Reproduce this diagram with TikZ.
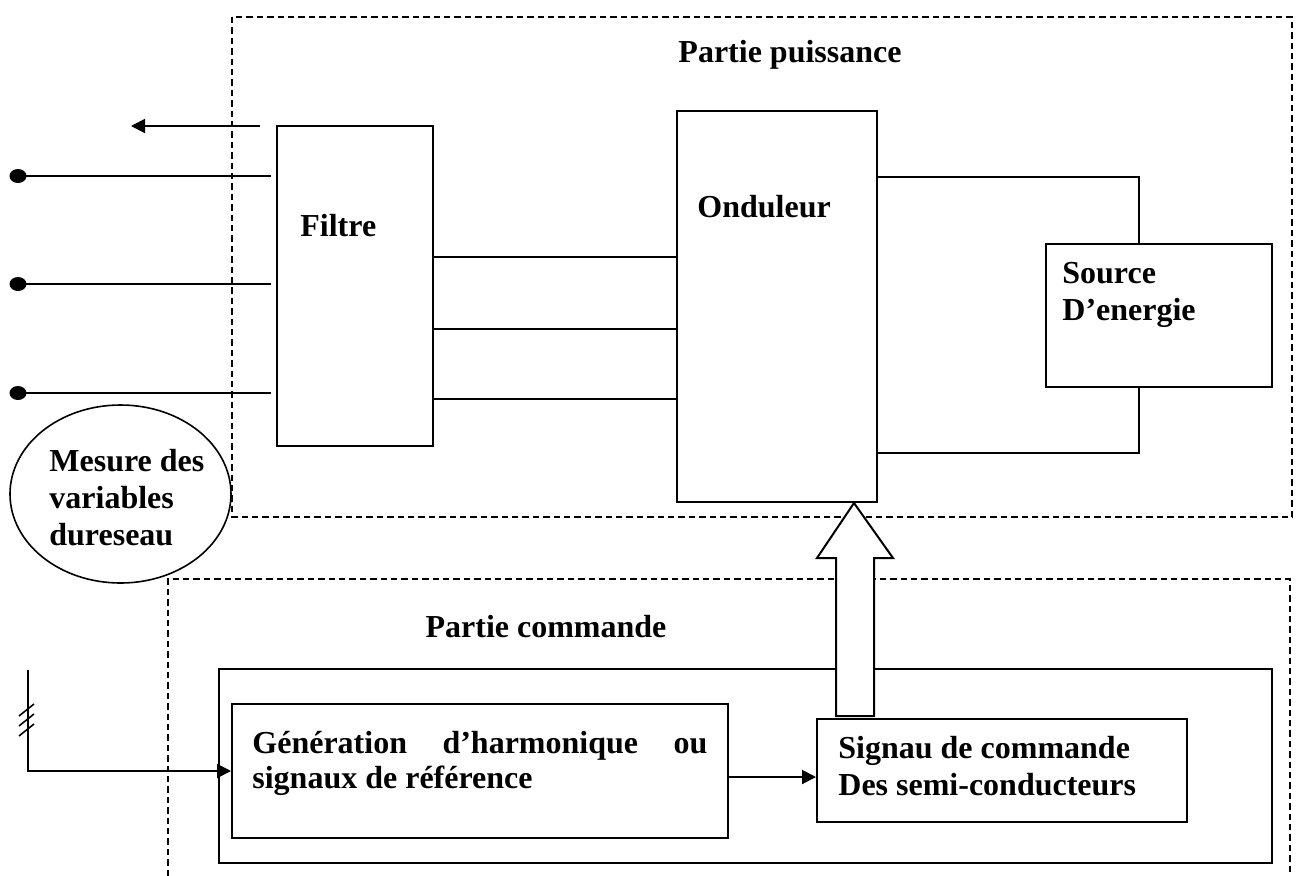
\documentclass[tikz,border=0pt]{standalone}
\usepackage{fontspec}
\setmainfont{Liberation Serif}
\usetikzlibrary{arrows.meta,fit,shapes.geometric}

\begin{document}
\begin{tikzpicture}[x=0.5pt,y=-0.5pt,
  every node/.style={font=\fontsize{16}{18}\selectfont\bfseries},
  box/.style={draw, line width=1pt, inner sep=0pt},
  wire/.style={line width=0.9pt},
  zone/.style={line width=0.8pt, dash pattern=on 3.2pt off 2pt},
  txt/.style={anchor=base west, inner sep=0pt},
  ctxt/.style={anchor=base, inner sep=0pt},
  dot/.style={ellipse, fill=black, inner sep=0pt, minimum width=8.5pt, minimum height=7pt},
  arr/.style={-{Triangle[length=7pt,width=7pt]}},
  hollow/.style={line width=1pt, fill=white, line join=miter},
]
\useasboundingbox (0,0) rectangle (1296,875);

% dashed zones: power part and control part
\draw[zone] (232,17) rectangle (1292,517);
\draw[zone] (168,876) |- (1290,579) -- (1290,876);

% blocks
\node[box, fit={(277,126)(433,446)}] (filtre) {};
\node[box, fit={(677,111)(877,502)}] (ond) {};
\node[box, fit={(1046,244)(1272,387)}] (src) {};
\node[box, fit={(219,669)(1272,863)}] (cmd) {};
\node[box, fit={(232,704)(728,838)}] (gen) {};
\node[box, fit={(817,719)(1187,822)}] (sig) {};
\node[draw, line width=0.8pt, ellipse, inner sep=0pt,
      minimum width=110.5pt, minimum height=89pt] (mes) at (120.5,494) {};

% block texts
\node[ctxt] (tpp) at (790,62) {Partie puissance};
\node[ctxt] (tpc) at (546,637) {Partie commande};
\node[txt] (tfil) at (300,236) {Filtre};
\node[txt] (tond) at (697,217) {Onduleur};
\node[txt] (tsrc1) at (1062,283) {Source};
\node[txt] (tsrc2) at (1062,320) {D’energie};
\node[txt] (tmes1) at (49,471) {Mesure des};
\node[txt] (tmes2) at (49,508) {variables};
\node[txt] (tmes3) at (49,545) {dureseau};
\node[txt] (tgen1) at (252,753) {\hbox to 227.5pt{Génération\hfill d’harmonique\hfill ou}};
\node[txt] (tgen2) at (252,788) {signaux de référence};
\node[txt] (tsig1) at (838,758) {Signau de commande};
\node[txt] (tsig2) at (838,795) {Des semi-conducteurs};

% grid terminals
\foreach \n/\y in {1/176, 2/284, 3/393} {
  \node[dot] (d\n) at (18,\y) {};
  \draw[wire, shorten >=2.5pt] (d\n.center) -- (d\n.center -| filtre.west);
}

% output current arrow
\coordinate (outA) at (260,126);
\coordinate (outB) at (131,126);
\draw[line width=1pt, arr] (outA) -- (outB);

% filter to inverter
\foreach \y in {257,329,399}
  \draw[wire] (filtre.east |- 0,\y) -- (ond.west |- 0,\y);

% inverter to energy source
\draw[wire] (ond.east |- 0,177) -| (src.north -| 1139,0);
\draw[wire] (ond.east |- 0,453) -| (src.south -| 1139,0);

% measured input bus
\coordinate (inTop) at (28,670);
\draw[line width=1pt, arr] (inTop) |- (gen.west |- 0,771);
\foreach \y in {716,726,736}
  \draw[line width=0.8pt] (19,\y) -- ++(15,-12);

% reference generation to gate signals
\draw[line width=1pt, arr] (gen.east |- 0,777) -- (sig.west |- 0,777);

% gate signals to inverter
\coordinate (tip) at (ond.south -| 854,0);
\draw[hollow] (tip) -- ++(39,55) -- ++(-19,0) -- ++(0,158) -- ++(-38,0)
  -- ++(0,-158) -- ++(-19,0) -- cycle;
\end{tikzpicture}
\end{document}
